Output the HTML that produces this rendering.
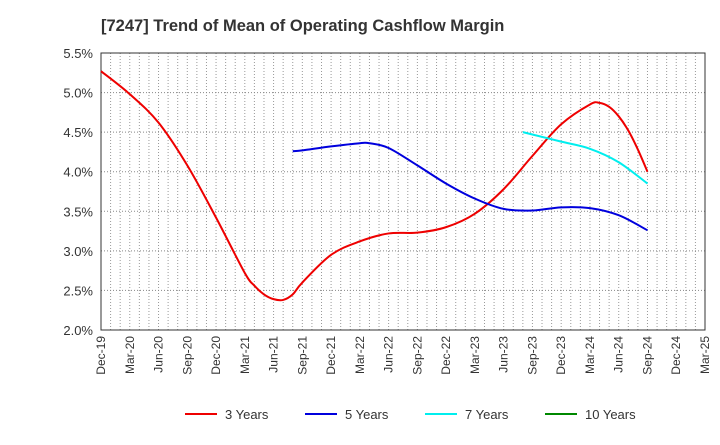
<!DOCTYPE html>
<html><head><meta charset="utf-8"><style>
body{margin:0;background:#fff;font-family:"Liberation Sans",sans-serif}
svg text{font-family:"Liberation Sans",sans-serif}
</style></head><body>
<svg id="c" width="720" height="440"></svg>
<script>
const xLabels=["Dec-19","Mar-20","Jun-20","Sep-20","Dec-20","Mar-21","Jun-21","Sep-21","Dec-21","Mar-22","Jun-22","Sep-22","Dec-22","Mar-23","Jun-23","Sep-23","Dec-23","Mar-24","Jun-24","Sep-24","Dec-24","Mar-25"];
const yTicks=[2.0,2.5,3.0,3.5,4.0,4.5,5.0,5.5];
const s3m=[0,3,6,9,12,15,16,17,18,19,20,21,24,27,30,33,36,39,42,45,48,51,52,53,54,55,56,57];
const s3v=[5.27,4.98,4.62,4.08,3.42,2.72,2.56,2.45,2.39,2.38,2.45,2.60,2.95,3.12,3.22,3.23,3.30,3.47,3.78,4.20,4.60,4.85,4.87,4.82,4.70,4.52,4.28,4.00];
const s5m=[20,21,24,27,28,30,33,36,39,42,45,48,51,54,57];
const s5v=[4.26,4.27,4.32,4.36,4.36,4.30,4.08,3.85,3.66,3.53,3.51,3.55,3.54,3.45,3.26];
const s7m=[44,45,48,51,54,57];
const s7v=[4.50,4.47,4.38,4.29,4.12,3.85];
const L=101,R=705,T=53,B=330;
const X=m=>L+m*(R-L)/63, Y=v=>B-(v-2)*(B-T)/3.5;
const svg=document.getElementById('c');const NS='http://www.w3.org/2000/svg';
function mk(t,a,p){const e=document.createElementNS(NS,t);for(const k in a)e.setAttribute(k,a[k]);(p||svg).appendChild(e);return e;}
const tt=mk('text',{x:101,y:31,'text-anchor':'start','font-size':16.5,'font-weight':'bold',fill:'#333'});tt.textContent="[7247]  Trend of Mean of Operating Cashflow Margin";

for(let m=1;m<63;m++){const g=mk('line',{x1:X(m),x2:X(m),y1:T,y2:B,stroke:'#999','stroke-dasharray':'1,2','stroke-width':1});
}
yTicks.forEach(v=>{const g=mk('line',{x1:L,x2:R,y1:Y(v),y2:Y(v),stroke:'#888','stroke-dasharray':'1,2'});

const t=mk('text',{x:L-8,y:Y(v)+5,'text-anchor':'end','font-size':13,fill:'#333'});t.textContent=v.toFixed(1)+'%';
});
const f=mk('rect',{x:L,y:T,width:R-L,height:B-T,fill:'none',stroke:'#333'});
xLabels.forEach((s,i)=>{const x=X(i*3),y=B+6;const t=mk('text',{x:x+4,y:y,'text-anchor':'end','font-size':12,fill:'#333',transform:`rotate(-90 ${x+4} ${y})`});t.textContent=s;
});
function path(ms,vs){const p=ms.map((m,i)=>[X(m),Y(vs[i])]);let d=`M${p[0][0]},${p[0][1]}`;
for(let i=0;i<p.length-1;i++){const p0=p[i-1]||p[i],p1=p[i],p2=p[i+1],p3=p[i+2]||p2;
d+=`C${p1[0]+(p2[0]-p0[0])/6},${p1[1]+(p2[1]-p0[1])/6} ${p2[0]-(p3[0]-p1[0])/6},${p2[1]-(p3[1]-p1[1])/6} ${p2[0]},${p2[1]}`;}return d;}
[[s3m,s3v,'#ee0000','line-3-years'],[s5m,s5v,'#0000dd','line-5-years'],[s7m,s7v,'#00eeee','line-7-years']].forEach(s=>{
const e=mk('path',{d:path(s[0],s[1]),fill:'none',stroke:s[2],'stroke-width':2});});
[["3 Years","#ee0000",185],["5 Years","#0000dd",305],["7 Years","#00eeee",425],["10 Years","#008800",545]].forEach(l=>{
const g=mk('g',{});
mk('line',{x1:l[2],x2:l[2]+32,y1:414,y2:414,stroke:l[1],'stroke-width':2},g);
mk('text',{x:l[2]+40,y:419,'font-size':13,fill:'#333'},g).textContent=l[0];});
</script>
</body></html>
